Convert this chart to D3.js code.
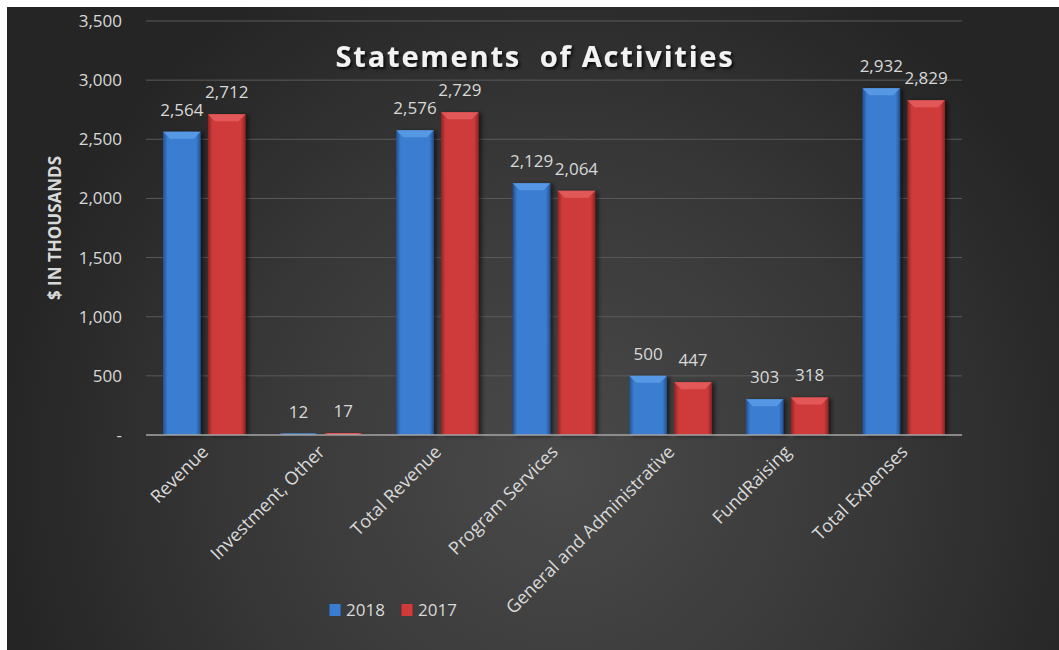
<!DOCTYPE html>
<html>
<head>
<meta charset="utf-8">
<script src="https://cdn.jsdelivr.net/npm/d3@7"></script>
<style>
  body { margin: 0; background: #ffffff; }
  text { font-family: 'Open Sans', sans-serif; }
</style>
</head>
<body>
<div id="chart"></div>
<script>
// Chart data
var categories = ['Revenue', 'Investment, Other', 'Total Revenue', 'Program Services',
    'General and Administrative', 'FundRaising', 'Total Expenses'];
var values2018 = [2564, 12, 2576, 2129, 500, 303, 2932];
var values2017 = [2712, 17, 2729, 2064, 447, 318, 2829];
var seriesNames = ['2018', '2017'];
var yTicks = [0, 500, 1000, 1500, 2000, 2500, 3000, 3500];

// SVG area
var svgWidth = 1059;
var svgHeight = 650;

// Plot area
var plotLeft = 146;
var plotRight = 962;
var plotTop = 21;
var plotBottom = 435;

var svg = d3.select('#chart')
    .append('svg')
    .attr('width', svgWidth)
    .attr('height', svgHeight);

var defs = svg.append('defs');

// Background gradient
var bg = defs.append('radialGradient')
    .attr('id', 'bgGrad')
    .attr('gradientUnits', 'userSpaceOnUse')
    .attr('cx', 560).attr('cy', 470).attr('r', 560);
bg.append('stop').attr('offset', '0%').attr('stop-color', '#4a4a4a');
bg.append('stop').attr('offset', '55%').attr('stop-color', '#383838');
bg.append('stop').attr('offset', '100%').attr('stop-color', '#252525');

// Bar gradients (horizontal bevel)
function barGradient(id, edge, mid) {
    var g = defs.append('linearGradient')
        .attr('id', id)
        .attr('x1', '0%').attr('x2', '100%')
        .attr('y1', '0%').attr('y2', '0%');
    g.append('stop').attr('offset', '0%').attr('stop-color', edge);
    g.append('stop').attr('offset', '12%').attr('stop-color', mid);
    g.append('stop').attr('offset', '88%').attr('stop-color', mid);
    g.append('stop').attr('offset', '100%').attr('stop-color', edge);
}
barGradient('blueGrad', '#244f8c', '#3a7dd0');
barGradient('redGrad', '#8e2424', '#cf3a3a');

var shadow = defs.append('filter')
    .attr('id', 'shadow')
    .attr('x', '-20%').attr('y', '-20%')
    .attr('width', '150%').attr('height', '150%');
shadow.append('feDropShadow')
    .attr('dx', 3).attr('dy', 1)
    .attr('stdDeviation', 2)
    .attr('flood-color', '#000')
    .attr('flood-opacity', 0.55);

var titleShadow = defs.append('filter').attr('id', 'titleShadow');
titleShadow.append('feDropShadow')
    .attr('dx', 2).attr('dy', 2)
    .attr('stdDeviation', 1.5)
    .attr('flood-color', '#000')
    .attr('flood-opacity', 0.8);

svg.append('rect')
    .attr('x', 7).attr('y', 7)
    .attr('width', svgWidth - 7)
    .attr('height', svgHeight - 7)
    .attr('fill', 'url(#bgGrad)');

// Scales
var xScale = d3.scaleBand()
    .domain(categories)
    .range([plotLeft, plotRight])
    .paddingInner(0)
    .paddingOuter(0);

var xInner = d3.scaleBand()
    .domain(seriesNames)
    .range([17, xScale.bandwidth() - 17])
    .paddingInner(0.16);

var yScale = d3.scaleLinear()
    .domain([0, 3500])
    .range([plotBottom, plotTop]);

// Gridlines
svg.append('g')
    .selectAll('line')
    .data(yTicks.slice(1))
    .enter()
    .append('line')
    .attr('x1', plotLeft).attr('x2', plotRight)
    .attr('y1', d => yScale(d)).attr('y2', d => yScale(d))
    .attr('stroke', '#5a5a5a')
    .attr('stroke-width', 1);

// Y axis labels
var yAxis = d3.axisLeft(yScale)
    .tickValues(yTicks)
    .tickSize(0)
    .tickPadding(0)
    .tickFormat(d => d === 0 ? '-' : d3.format(',')(d));

var yAxisG = svg.append('g')
    .attr('transform', 'translate(' + 122 + ',0)')
    .call(yAxis);
yAxisG.select('.domain').remove();
yAxisG.selectAll('text')
    .attr('fill', '#d9d9d9')
    .style('font-size', '17px')
    .style('font-family', "'Open Sans', sans-serif");

// Y axis title
svg.append('text')
    .attr('transform', 'translate(61,228) rotate(-90)')
    .attr('text-anchor', 'middle')
    .attr('fill', '#d9d9d9')
    .style('font-size', '17px')
    .style('font-weight', 'bold')
    .text('$ IN THOUSANDS');

// Bars
var series = [
    { name: '2018', values: values2018, fill: 'url(#blueGrad)', cap: '#5a9be6' },
    { name: '2017', values: values2017, fill: 'url(#redGrad)', cap: '#e35c5c' }
];

series.forEach(function(s) {
    var g = svg.append('g');
    var bars = g.selectAll('g')
        .data(categories)
        .enter()
        .append('g');

    bars.append('rect')
        .attr('x', (d) => xScale(d) + xInner(s.name))
        .attr('y', (d, i) => yScale(s.values[i]))
        .attr('width', xInner.bandwidth())
        .attr('height', (d, i) => plotBottom - yScale(s.values[i]))
        .attr('fill', s.fill)
        .attr('filter', 'url(#shadow)');

    // top bevel
    bars.append('path')
        .attr('d', function(d, i) {
            var x0 = xScale(d) + xInner(s.name);
            var x1 = x0 + xInner.bandwidth();
            var y0 = yScale(s.values[i]);
            var h = Math.min(7, plotBottom - y0);
            return 'M' + x0 + ',' + y0 + 'L' + x1 + ',' + y0 +
                'L' + (x1 - 7) + ',' + (y0 + h) + 'L' + (x0 + 7) + ',' + (y0 + h) + 'Z';
        })
        .attr('fill', s.cap)
        .attr('opacity', 0.9);

    // data labels
    g.selectAll('text')
        .data(categories)
        .enter()
        .append('text')
        .attr('x', (d) => xScale(d) + xInner(s.name) + xInner.bandwidth() / 2)
        .attr('y', (d, i) => yScale(s.values[i]) - 16)
        .attr('text-anchor', 'middle')
        .attr('fill', '#d9d9d9')
        .style('font-size', '17px')
        .text((d, i) => d3.format(',')(s.values[i]));
});

// X axis line
svg.append('line')
    .attr('x1', plotLeft).attr('x2', plotRight)
    .attr('y1', plotBottom).attr('y2', plotBottom)
    .attr('stroke', '#a6a6a6')
    .attr('stroke-width', 1.5);

// Category labels
svg.append('g')
    .selectAll('text')
    .data(categories)
    .enter()
    .append('text')
    .attr('transform', d => 'translate(' + (xScale(d) + xScale.bandwidth() / 2 + 5) + ',' + 453 + ') rotate(-45)')
    .attr('text-anchor', 'end')
    .attr('fill', '#d9d9d9')
    .style('font-size', '18px')
    .text(d => d);

// Title
svg.append('text')
    .attr('x', 535)
    .attr('y', 67)
    .attr('text-anchor', 'middle')
    .attr('fill', '#f2f2f2')
    .attr('filter', 'url(#titleShadow)')
    .style('font-size', '29px')
    .style('font-weight', 'bold')
    .style('letter-spacing', '1.8px')
    .style('white-space', 'pre')
    .text('Statements  of Activities');

// Legend
var legend = svg.append('g')
    .selectAll('g')
    .data(series)
    .enter()
    .append('g')
    .attr('transform', (d, i) => 'translate(' + (329 + i * 72) + ',604)');

legend.append('rect')
    .attr('width', 12).attr('height', 12)
    .attr('fill', d => d.fill);

legend.append('text')
    .attr('x', 17)
    .attr('y', 12)
    .attr('fill', '#d9d9d9')
    .style('font-size', '17px')
    .text(d => d.name);
</script>
</body>
</html>
